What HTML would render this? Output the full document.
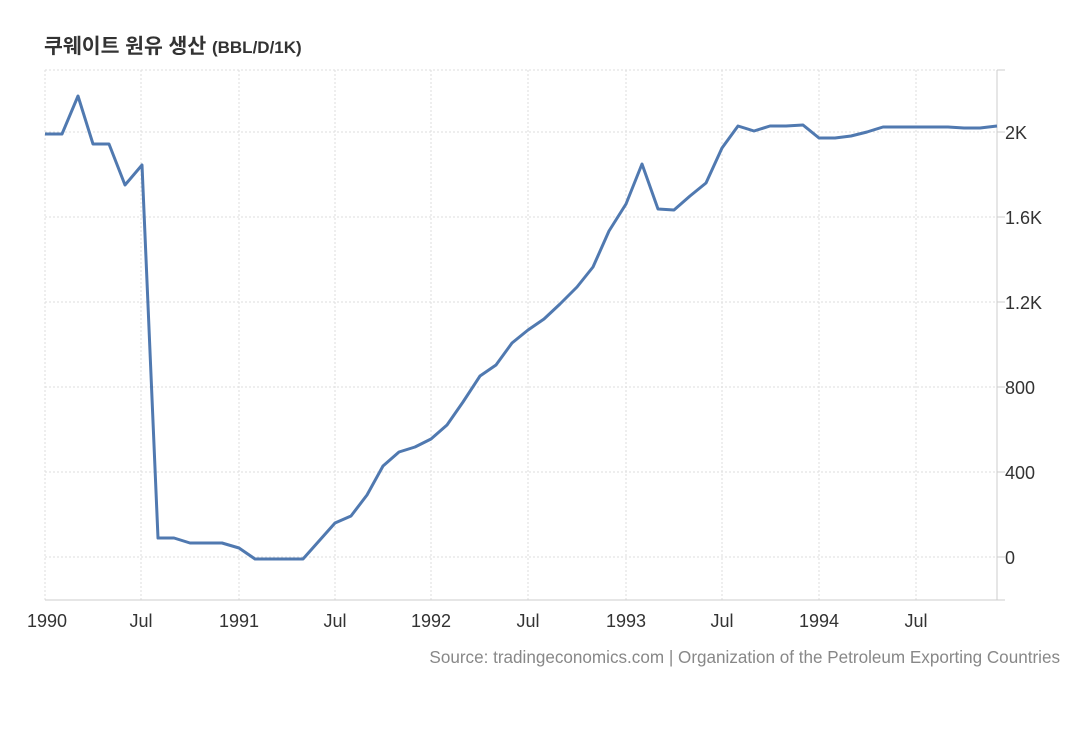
<!DOCTYPE html>
<html><head><meta charset="utf-8"><style>
body{margin:0;background:#fff;width:1080px;height:736px;overflow:hidden;font-family:"Liberation Sans","Noto Sans CJK KR",sans-serif}
</style></head><body>
<svg width="1080" height="736" xmlns="http://www.w3.org/2000/svg" font-family="Liberation Sans, Noto Sans CJK KR, sans-serif">
<text x="44" y="53" font-size="20.5" font-weight="bold" fill="#333">쿠웨이트 원유 생산 <tspan font-size="17">(BBL/D/1K)</tspan></text>
<g stroke="#ddd" stroke-dasharray="2,2" stroke-width="1">
<line x1="45" x2="997" y1="70" y2="70"/>
<line x1="45" x2="997" y1="132" y2="132"/>
<line x1="45" x2="997" y1="217" y2="217"/>
<line x1="45" x2="997" y1="302" y2="302"/>
<line x1="45" x2="997" y1="387" y2="387"/>
<line x1="45" x2="997" y1="472" y2="472"/>
<line x1="45" x2="997" y1="557" y2="557"/>
<line x1="45" x2="45" y1="70" y2="600"/>
<line x1="141" x2="141" y1="70" y2="600"/>
<line x1="239" x2="239" y1="70" y2="600"/>
<line x1="335" x2="335" y1="70" y2="600"/>
<line x1="431" x2="431" y1="70" y2="600"/>
<line x1="528" x2="528" y1="70" y2="600"/>
<line x1="626" x2="626" y1="70" y2="600"/>
<line x1="722" x2="722" y1="70" y2="600"/>
<line x1="819" x2="819" y1="70" y2="600"/>
<line x1="916" x2="916" y1="70" y2="600"/>
</g>
<line x1="45" x2="997" y1="600" y2="600" stroke="#ccc"/>
<line x1="997" x2="997" y1="70" y2="600" stroke="#ccc"/>
<g stroke="#ccc"><line x1="997" x2="1005" y1="70" y2="70"/><line x1="997" x2="1005" y1="132" y2="132"/><line x1="997" x2="1005" y1="217" y2="217"/><line x1="997" x2="1005" y1="302" y2="302"/><line x1="997" x2="1005" y1="387" y2="387"/><line x1="997" x2="1005" y1="472" y2="472"/><line x1="997" x2="1005" y1="557" y2="557"/><line x1="997" x2="1005" y1="600" y2="600"/></g>
<g font-size="18" fill="#333">
<text x="1005" y="139">2K</text><text x="1005" y="224">1.6K</text><text x="1005" y="309">1.2K</text><text x="1005" y="394">800</text><text x="1005" y="479">400</text><text x="1005" y="564">0</text>
</g>
<g font-size="18" fill="#333" text-anchor="middle">
<text x="47" y="627">1990</text><text x="141" y="627">Jul</text><text x="239" y="627">1991</text><text x="335" y="627">Jul</text><text x="431" y="627">1992</text><text x="528" y="627">Jul</text><text x="626" y="627">1993</text><text x="722" y="627">Jul</text><text x="819" y="627">1994</text><text x="916" y="627">Jul</text>
</g>
<text x="1060" y="663" font-size="17.1" fill="#888" text-anchor="end">Source: tradingeconomics.com | Organization of the Petroleum Exporting Countries</text>
<polyline fill="none" stroke="#5079b0" stroke-width="3" stroke-linejoin="round" points="45,134 62,134 78,96 93,144 109,144 125,185 142,165 158,538 174,538 190,543 206,543 222,543 239,548 255,559 271,559 287,559 303,559 319,541 335,523 351,516 367,495 383,466 399,452 415,447 431,439 447,425 463,402 480,376 496,365 512,343 528,330 544,319 560,304 577,287 593,267 609,231 626,204 642,164 658,209 674,210 690,196 706,183 722,148 738,126 754,131 770,126 786,126 803,125 819,138 835,138 851,136 867,132 883,127 899,127 915,127 932,127 948,127 964,128 980,128 997,126"/>
</svg>
</body></html>
